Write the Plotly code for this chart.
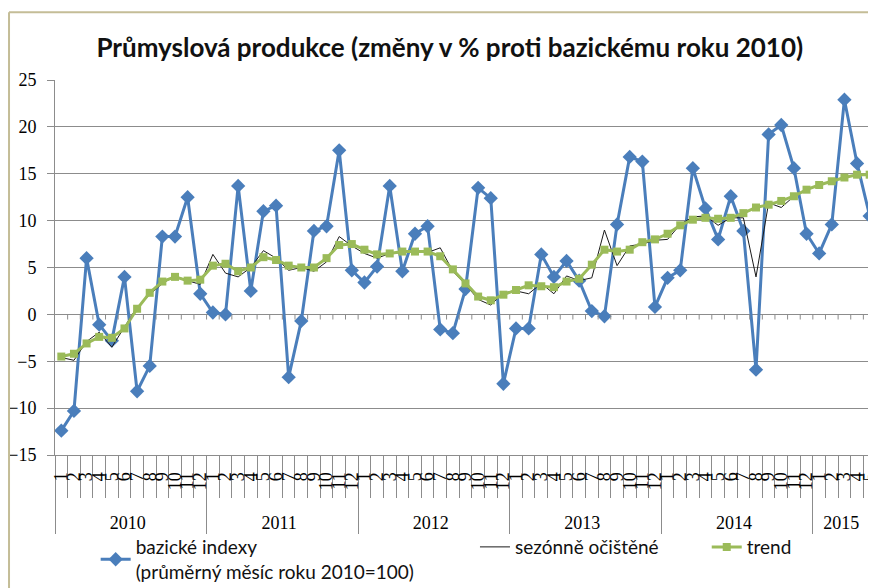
import plotly.graph_objects as go

roky = ["2010", "2011", "2012", "2013", "2014", "2015"]
pocty_mesicu = [12, 12, 12, 12, 12, 5]

bazicke_indexy = [-12.4, -10.3, 6.0, -1.1, -2.8, 4.0, -8.2, -5.5, 8.3, 8.3, 12.5, 2.2,
                  0.2, 0.0, 13.7, 2.5, 11.0, 11.6, -6.7, -0.7, 8.9, 9.4, 17.5, 4.7,
                  3.4, 5.1, 13.7, 4.6, 8.6, 9.4, -1.6, -2.0, 2.7, 13.5, 12.4, -7.4,
                  -1.5, -1.5, 6.4, 4.0, 5.7, 3.6, 0.35, -0.2, 9.6, 16.8, 16.3, 0.8,
                  3.9, 4.7, 15.6, 11.3, 8.0, 12.6, 8.9, -5.9, 19.2, 20.2, 15.6, 8.6,
                  6.5, 9.6, 22.9, 16.1, 10.5]

sezonne_ocistene = [-4.6, -4.9, -2.9, -1.9, -3.5, -1.3, 0.8, 2.1, 3.3, 4.1, 3.6, 3.2,
                    6.4, 4.4, 4.0, 5.0, 6.8, 6.0, 4.7, 5.0, 4.6, 5.6, 8.3, 7.3,
                    6.5, 6.0, 6.5, 6.6, 6.6, 6.6, 7.1, 4.6, 3.2, 1.6, 1.0, 2.3,
                    2.5, 2.2, 3.3, 2.2, 4.1, 3.6, 3.9, 9.0, 5.2, 7.3, 7.5, 7.9,
                    8.0, 9.6, 10.4, 10.5, 9.5, 10.3, 10.3, 4.0, 11.9, 11.4, 12.6, 13.3,
                    13.8, 14.2, 14.6, 14.9, 14.9]

trend = [-4.5, -4.2, -3.1, -2.4, -2.5, -1.5, 0.6, 2.3, 3.5, 4.0, 3.6, 3.7,
         5.2, 5.4, 4.6, 5.0, 6.1, 5.8, 5.2, 5.0, 5.0, 6.0, 7.4, 7.5,
         6.9, 6.4, 6.5, 6.7, 6.7, 6.7, 6.2, 4.8, 3.3, 1.9, 1.5, 2.1,
         2.6, 3.1, 3.0, 2.9, 3.5, 3.8, 5.3, 6.9, 6.7, 6.9, 7.7, 8.0,
         8.6, 9.5, 10.1, 10.3, 10.2, 10.3, 10.8, 11.4, 11.7, 12.1, 12.6, 13.3,
         13.8, 14.2, 14.6, 14.9, 14.9]

y_ticks = [-15, -10, -5, 0, 5, 10, 15, 20, 25]

rok_labels = []
mesic_labels = []
for rok, pocet in zip(roky, pocty_mesicu):
    for m in range(1, pocet + 1):
        rok_labels.append(rok)
        mesic_labels.append(str(m))
n = len(mesic_labels)

# rotated month labels, padded with non-breaking spaces to push them (and the
# year row) a little further from the axis line
NB = "\u00a0"
mesic_disp = [NB + m + NB + NB for m in mesic_labels]
x_cat = [rok_labels, mesic_disp]

BLUE = "#4a7ebb"
GREEN = "#9bbb59"
GRID = "#8c8c8c"
SERIF = "Liberation Serif"
SANS = "Lato"

fig = go.Figure()

# small ticks on the zero line (category boundaries)
fig.add_trace(go.Scatter(
    x=[i + 0.5 for i in range(n - 1)], y=[0] * (n - 1), xaxis="x2",
    mode="markers", marker=dict(size=0.1, color=GRID),
    error_y=dict(type="data", symmetric=False, array=[0] * (n - 1),
                 arrayminus=[0.55] * (n - 1), width=0, thickness=1, color=GRID),
    showlegend=False, hoverinfo="skip"))

fig.add_trace(go.Scatter(
    x=x_cat, y=bazicke_indexy, mode="lines+markers",
    name="bazické indexy<br>(průměrný měsíc roku 2010=100)",
    line=dict(color=BLUE, width=3),
    marker=dict(symbol="diamond", size=11, color=BLUE),
    legend="legend"))
fig.add_trace(go.Scatter(
    x=x_cat, y=sezonne_ocistene, mode="lines", name="sezónně očištěné",
    line=dict(color="#1a1a1a", width=1), legend="legend2"))
fig.add_trace(go.Scatter(
    x=x_cat, y=trend, mode="lines+markers", name="trend",
    line=dict(color=GREEN, width=3),
    marker=dict(symbol="square", size=8, color=GREEN),
    legend="legend3"))

legend_common = dict(orientation="h", bgcolor="rgba(0,0,0,0)",
                     font=dict(family=SANS, size=19, color="#111"),
                     xref="container", yref="container",
                     xanchor="left", yanchor="top", itemwidth=30)

fig.update_layout(
    width=868, height=580,
    margin=dict(l=47, r=0, t=72, b=133, autoexpand=False),
    paper_bgcolor="white", plot_bgcolor="white",
    title=dict(text="<b>Průmyslová produkce (změny v % proti bazickému roku 2010)</b>",
               x=0.509, xanchor="center", y=0.931, yanchor="middle",
               font=dict(family=SANS, size=26, color="#111")),
    xaxis=dict(type="multicategory", range=[-0.5, n - 0.5], automargin=False,
               showgrid=False, showline=True, linecolor=GRID,
               ticks="outside", tickson="boundaries", ticklen=42, tickcolor=GRID,
               showdividers=True, dividercolor=GRID, dividerwidth=1,
               tickmode="linear", tick0=0, dtick=1,
               tickangle=-90,
               tickfont=dict(family=SERIF, size=18, color="black")),
    xaxis2=dict(overlaying="x", range=[-0.5, n - 0.5], visible=False),
    yaxis=dict(range=[-15, 25], tickvals=y_ticks, automargin=False,
               showgrid=True, gridcolor=GRID,
               gridwidth=1, zeroline=False, showline=True, linecolor=GRID,
               ticks="outside", ticklen=7, tickcolor=GRID, ticklabelstandoff=7,
               tickfont=dict(family=SERIF, size=18, color="black")),
    legend=dict(x=0.101, y=0.1034, **legend_common),
    legend2=dict(x=0.538, y=0.1034, **legend_common),
    legend3=dict(x=0.805, y=0.1034, **legend_common),
    shapes=[
        dict(type="line", xref="paper", yref="paper", x0=-0.056, x1=1.01,
             y0=1.181, y1=1.181, line=dict(color="#c4bd97", width=2)),
        dict(type="line", xref="paper", yref="paper", x0=-0.056, x1=-0.056,
             y0=1.181, y1=-0.38, line=dict(color="#c4bd97", width=2)),
    ],
)

fig.write_html("out.html")
